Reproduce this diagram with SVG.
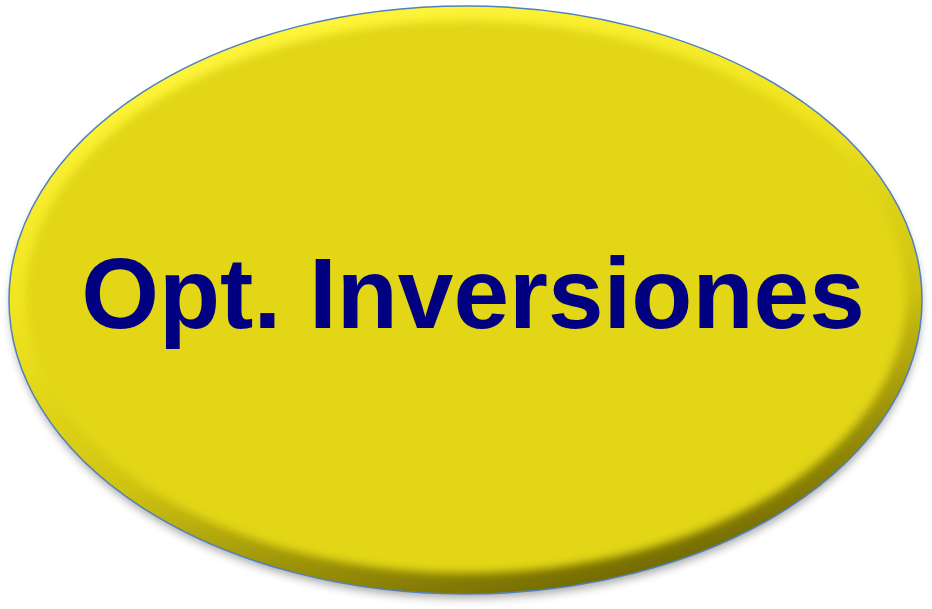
<svg xmlns="http://www.w3.org/2000/svg" width="932" height="609" viewBox="0 0 932 609">
  <defs>
    <linearGradient id="bevel" x1="0.3" y1="0" x2="0.7" y2="1">
      <stop offset="0" stop-color="#FFF63E"/>
      <stop offset="0.35" stop-color="#F0E420"/>
      <stop offset="0.65" stop-color="#CFC312"/>
      <stop offset="1" stop-color="#6A6200"/>
    </linearGradient>
    <filter id="blur" x="-10%" y="-10%" width="120%" height="120%">
      <feGaussianBlur stdDeviation="4"/>
    </filter>
    <filter id="shadow" x="-10%" y="-10%" width="120%" height="130%">
      <feGaussianBlur stdDeviation="5"/>
    </filter>
    <clipPath id="clip">
      <ellipse cx="465.5" cy="300" rx="456.5" ry="294"/>
    </clipPath>
    <style>
      .label { font-family: "Liberation Sans", Arial, sans-serif; font-weight: bold; fill: #000080; }
    </style>
  </defs>
  <rect width="932" height="609" fill="#FFFFFF"/>
  <g id="node-opt-inversiones">
    <ellipse cx="466" cy="306" rx="455" ry="292" fill="#000000" opacity="0.35" filter="url(#shadow)"/>
    <ellipse cx="465.5" cy="300" rx="456.5" ry="294" fill="url(#bevel)"/>
    <g clip-path="url(#clip)">
      <ellipse cx="466" cy="297" rx="440" ry="276" fill="#E2D614" filter="url(#blur)"/>
    </g>
    <ellipse cx="465.5" cy="300" rx="456.5" ry="294" fill="none" stroke="#4F81BD" stroke-width="1.5"/>
    <text class="label" x="473" y="328" font-size="100" text-anchor="middle">Opt. Inversiones</text>
  </g>
  <g id="connectors"/>
</svg>
